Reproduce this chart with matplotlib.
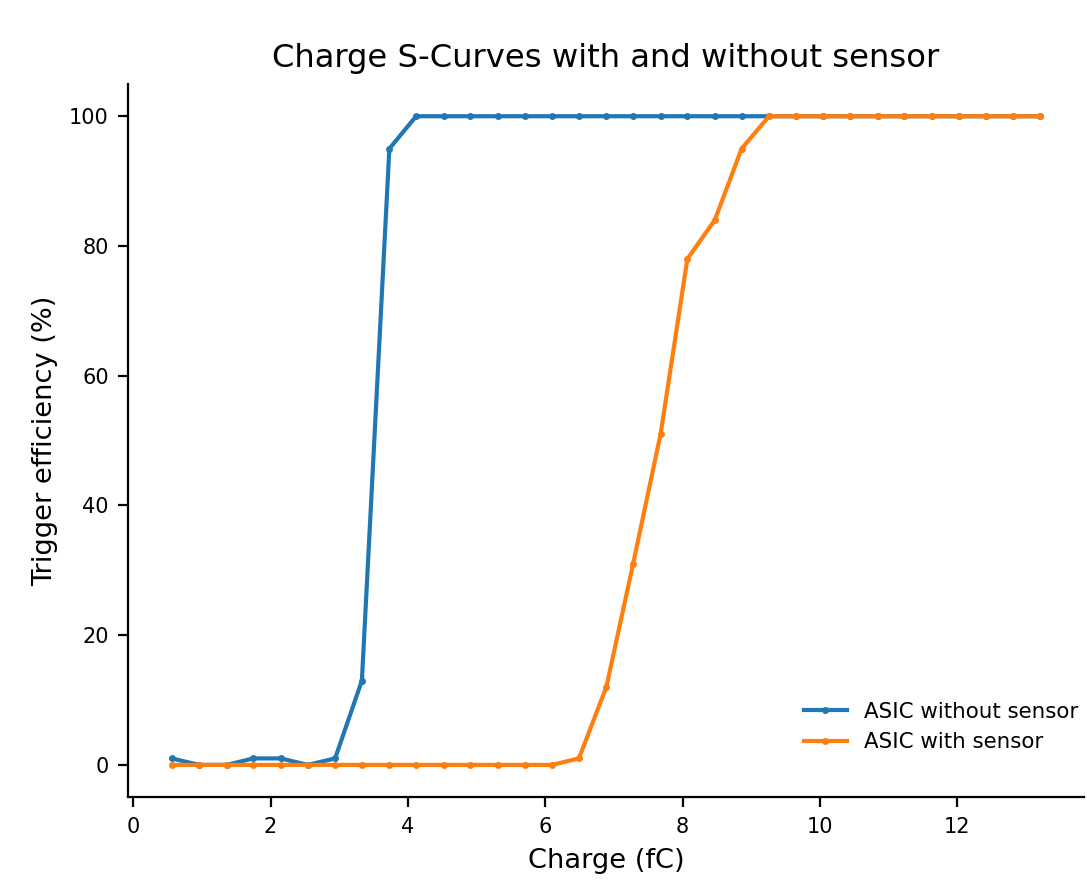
import matplotlib
matplotlib.use("Agg")
import matplotlib.pyplot as plt

# charge injected (fC)
charge = [0.56, 0.96, 1.36, 1.75, 2.15, 2.54, 2.94, 3.33, 3.73, 4.12,
          4.52, 4.91, 5.31, 5.70, 6.10, 6.49, 6.89, 7.28, 7.68, 8.07,
          8.47, 8.86, 9.26, 9.65, 10.05, 10.44, 10.84, 11.23, 11.63, 12.02,
          12.42, 12.81, 13.21]

# trigger efficiency (%)
eff_no_sensor = [1, 0, 0, 1, 1, 0, 1, 13, 95, 100,
                 100, 100, 100, 100, 100, 100, 100, 100, 100, 100,
                 100, 100, 100, 100, 100, 100, 100, 100, 100, 100,
                 100, 100, 100]
eff_sensor = [0, 0, 0, 0, 0, 0, 0, 0, 0, 0,
              0, 0, 0, 0, 0, 1, 12, 31, 51, 78,
              84, 95, 100, 100, 100, 100, 100, 100, 100, 100,
              100, 100, 100]

fig, ax = plt.subplots(figsize=(5.435, 4.41), dpi=200)
ax.plot(charge, eff_no_sensor, 'o-', lw=1.5, ms=1.8, mew=0.7, label='ASIC without sensor')
ax.plot(charge, eff_sensor, 'o-', lw=1.5, ms=1.8, mew=0.7, label='ASIC with sensor')
ax.set_title('Charge S-Curves with and without sensor', fontsize=11.6)
ax.set_xlabel('Charge (fC)', fontsize=9.8)
ax.set_ylabel('Trigger efficiency (%)', fontsize=9.8)
ax.spines['top'].set_visible(False)
ax.spines['right'].set_visible(False)
ax.tick_params(labelsize=7.5)
ax.legend(loc='lower right', bbox_to_anchor=(1.014, 0.036), frameon=False, fontsize=7.7)
fig.subplots_adjust(left=0.118, right=0.997, top=0.905, bottom=0.096)
fig.savefig('out.png')
